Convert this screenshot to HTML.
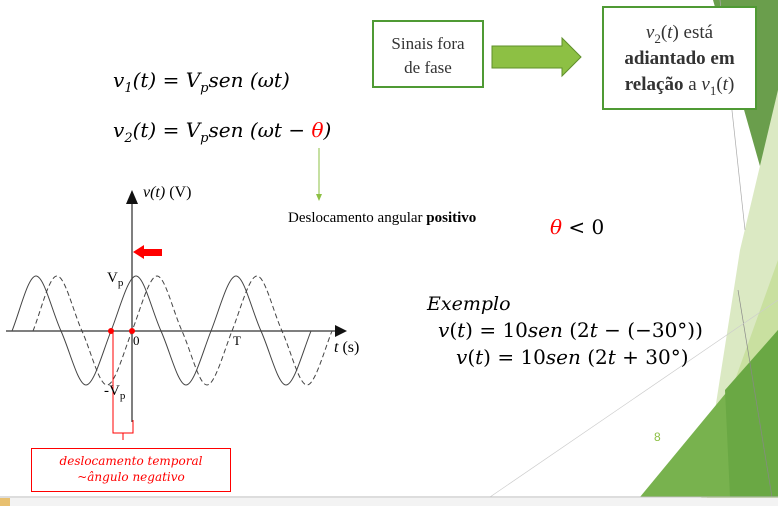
<!DOCTYPE html>
<html><head><meta charset="utf-8"><style>
body{margin:0;width:778px;height:506px;overflow:hidden;background:#fff;position:relative;font-family:"Liberation Serif",serif}
.a{position:absolute;white-space:nowrap}
.m{font-style:italic;font-size:20px;font-family:"DejaVu Serif","Liberation Serif",serif}
sub{line-height:0}
.box{position:absolute;border:2px solid #4f9a34;background:#fff;text-align:center;color:#333}
</style></head><body>
<svg class="a" style="left:0;top:0" width="778" height="506">
<polygon points="713,0 778,0 778,230" fill="#6a9e4c"/>
<polygon points="778,90 740,250 700,506 778,506" fill="#dbe9c3"/>
<polygon points="778,260 735,380 705,506 778,506" fill="#c9e0a0"/>
<polygon points="640,497 778,330 778,497" fill="#78b24e"/>
<polygon points="725,390 778,330 778,497 730,497" fill="#6aa844"/>
<line x1="720" y1="0" x2="745" y2="230" stroke="#aaa" stroke-width="0.7"/>
<line x1="738" y1="290" x2="772" y2="497" stroke="#888" stroke-width="0.7"/>
<line x1="490" y1="497" x2="778" y2="300" stroke="#ccc" stroke-width="0.7"/>
<line x1="0" y1="497" x2="778" y2="497" stroke="#bbb" stroke-width="1"/>
<rect x="0" y="498" width="778" height="8" fill="#f3f3f3"/>
<rect x="0" y="498" width="10" height="8" fill="#e8c070"/>
<line x1="6" y1="331" x2="340" y2="331" stroke="#555" stroke-width="1.5"/>
<polygon points="347,331 335,325 335,337" fill="#111"/>
<line x1="132" y1="200" x2="132" y2="422" stroke="#555" stroke-width="1.5"/>
<polygon points="132,190 126,204 138,204" fill="#111"/>
<path d="M12,331 C20,311 28,276 36,276 C44,276 52,311 61,331 C70,351 78,385 86,385 C94,385 103,351 111,331 C119,311 128,276 136,276 C144,276 152,311 161,331 C170,351 178,385 186,385 C194,385 203,351 211,331 C219,311 228,276 236,276 C244,276 252,311 261,331 C270,351 278,385 286,385 C294,385 303,351 311,331" fill="none" stroke="#444" stroke-width="1"/>
<path d="M33,331 C41,311 49,276 57,276 C65,276 73,311 82,331 C91,351 99,385 107,385 C115,385 124,351 132,331 C140,311 149,276 157,276 C165,276 173,311 182,331 C191,351 199,385 207,385 C215,385 224,351 232,331 C240,311 249,276 257,276 C265,276 273,311 282,331 C291,351 299,385 307,385 C315,385 324,351 332,331" fill="none" stroke="#444" stroke-width="1" stroke-dasharray="5,3"/>
<circle cx="111" cy="331" r="3" fill="red"/><circle cx="132" cy="331" r="3" fill="red"/>
<path d="M113,331 V433 H133 V420 M123,433 V440" fill="none" stroke="red" stroke-width="1"/>
<polygon points="133,252 144,245 144,249 162,249 162,256 144,256 144,259" fill="red"/>
<line x1="319" y1="148" x2="319" y2="195" stroke="#8dc044" stroke-width="1"/>
<polygon points="319,201 316,194 322,194" fill="#8dc044"/>
<polygon points="492,46 562,46 562,38 581,57 562,76 562,68 492,68" fill="#8dc044" stroke="#5f8f2a" stroke-width="1"/>
</svg>
<div class="a m" style="left:113px;top:68px">v<sub style="font-size:13px">1</sub>(t) = V<sub style="font-size:13px">p</sub>sen (ωt)</div>
<div class="a m" style="left:113px;top:118px">v<sub style="font-size:13px">2</sub>(t) = V<sub style="font-size:13px">p</sub>sen (ωt − <span style="color:red">θ</span>)</div>
<div class="a" style="left:143px;top:184px;font-size:16px"><i>v(t)</i> (V)</div>
<div class="a" style="left:107px;top:270px;font-size:15px">V<sub style="font-size:11px">p</sub></div>
<div class="a" style="left:104px;top:383px;font-size:15px">-V<sub style="font-size:11px">p</sub></div>
<div class="a" style="left:133px;top:333px;font-size:13px">0</div>
<div class="a" style="left:233px;top:333px;font-size:13px">T</div>
<div class="a" style="left:334px;top:339px;font-size:16px"><i>t</i> (s)</div>
<div class="a" style="left:31px;top:448px;width:198px;height:38px;border:1px solid red;color:red;font-style:italic;font-size:12px;text-align:center;line-height:16px;padding-top:4px;font-family:'DejaVu Serif',serif">deslocamento temporal<br>~ângulo negativo</div>
<div class="a" style="left:288px;top:210px;font-size:15px">Deslocamento angular <b>positivo</b></div>
<div class="a m" style="left:550px;top:215px;font-style:normal"><i style="color:red">θ</i> &lt; 0</div>
<div class="box" style="left:372px;top:20px;width:112px;height:68px;font-size:17px;line-height:24px;padding-top:10px;box-sizing:border-box">Sinais fora<br>de fase</div>
<div class="box" style="left:602px;top:6px;width:155px;height:104px;font-size:19px;line-height:26px;padding-top:12px;box-sizing:border-box"><i>v</i><sub style="font-size:13px">2</sub>(<i>t</i>) está<br><b>adiantado em</b><br><b>relação</b> a <i>v</i><sub style="font-size:13px">1</sub>(<i>t</i>)</div>
<div class="a m" style="left:427px;top:293px;font-size:19px">Exemplo</div>
<div class="a m" style="left:438px;top:318px;font-style:normal"><i>v</i>(<i>t</i>) = 10<i>sen</i> (2<i>t</i> − (−30°))</div>
<div class="a m" style="left:456px;top:345px;font-style:normal"><i>v</i>(<i>t</i>) = 10<i>sen</i> (2<i>t</i> + 30°)</div>
<div class="a" style="left:654px;top:430px;font-size:12px;color:#8dc044;font-family:'Liberation Sans',sans-serif">8</div>
</body></html>
